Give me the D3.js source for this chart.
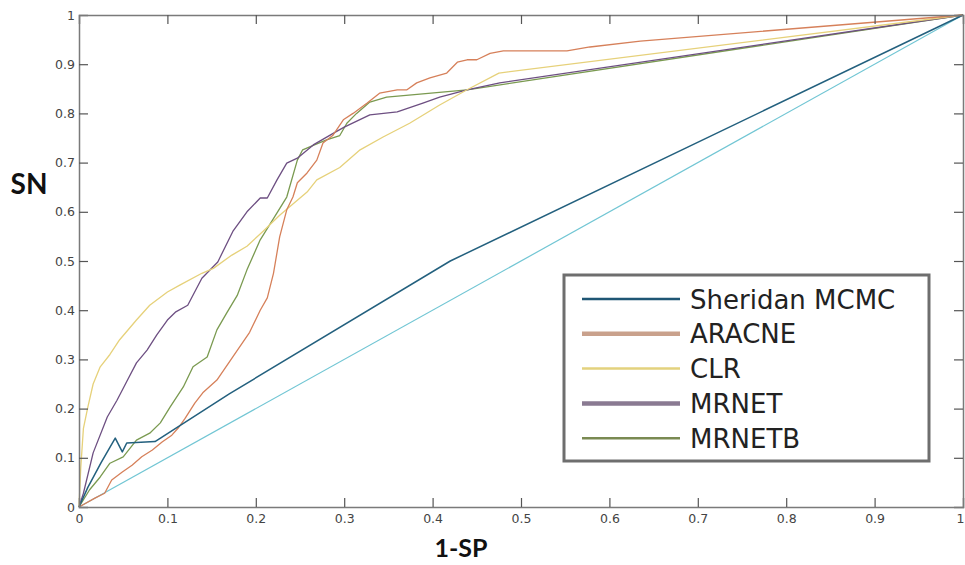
<!DOCTYPE html>
<html lang="en">
<head>
<meta charset="UTF-8" />
<title>ROC curves</title>
<script src="https://d3js.org/d3.v7.min.js"></script>
<style>
  body { margin: 0; background: #fff; }
  svg { display: block; }
  .tick-label { font-family: "DejaVu Sans", sans-serif; font-size: 12.5px; fill: #444; }
  .axis-title { font-family: Lato, "Open Sans", sans-serif; font-weight: bold; fill: #111; }
  .legend-text { font-family: "DejaVu Sans", sans-serif; font-size: 26px; fill: #222; }
</style>
</head>
<body>
<div id="chart"></div>
<script>
// series names and colours
const seriesNames = ['Sheridan MCMC', 'ARACNE', 'CLR', 'MRNET', 'MRNETB'];
const lineColors = ['#23607e', '#d6805a', '#e6d17a', '#6d4f82', '#7a9a50'];
const legendColors = ['#1f5674', '#c9a18c', '#e3d27e', '#8a7a92', '#7a8a52'];
const legendWidths = [2.5, 4.5, 2.5, 4.5, 2.5];
const diagColor = '#72c6d4';

// tick values
const xTicks = [0, 0.1, 0.2, 0.3, 0.4, 0.5, 0.6, 0.7, 0.8, 0.9, 1];
const yTicks = [0, 0.1, 0.2, 0.3, 0.4, 0.5, 0.6, 0.7, 0.8, 0.9, 1];

// [1-SP, SN] points
const diagonal = [[0, 0], [1, 1]];
const sheridan = [[0,0],[0.01,0.04],[0.025,0.09],[0.041,0.14],[0.049,0.112],[0.054,0.13],[0.086,0.133],
  [0.17,0.23],[0.42,0.5],[1,1]];
const aracne = [[0,0],[0.018,0.018],[0.029,0.028],[0.037,0.055],[0.049,0.071],[0.06,0.085],[0.071,0.102],
  [0.083,0.116],[0.094,0.132],[0.105,0.146],[0.112,0.16],[0.12,0.18],[0.131,0.211],[0.14,0.232],[0.156,0.258],
  [0.174,0.305],[0.193,0.355],[0.205,0.4],[0.213,0.425],[0.22,0.475],[0.227,0.549],[0.235,0.604],[0.242,0.63],
  [0.247,0.659],[0.258,0.679],[0.269,0.705],[0.276,0.74],[0.287,0.755],[0.299,0.787],[0.31,0.8],[0.326,0.821],
  [0.34,0.841],[0.36,0.848],[0.371,0.848],[0.382,0.862],[0.397,0.872],[0.416,0.882],[0.428,0.904],[0.439,0.909],
  [0.45,0.909],[0.465,0.922],[0.48,0.927],[0.552,0.927],[0.578,0.935],[0.635,0.947],[1,1]];
const clr = [[0,0],[0.002,0.08],[0.005,0.16],[0.01,0.203],[0.016,0.25],[0.024,0.285],[0.035,0.31],[0.046,0.34],
  [0.065,0.38],[0.08,0.41],[0.1,0.437],[0.114,0.451],[0.139,0.475],[0.152,0.485],[0.173,0.512],[0.19,0.53],
  [0.208,0.56],[0.227,0.593],[0.258,0.64],[0.269,0.665],[0.295,0.69],[0.318,0.726],[0.344,0.752],[0.374,0.78],
  [0.408,0.817],[0.439,0.848],[0.475,0.882],[1,1]];
const mrnet = [[0,0],[0.005,0.028],[0.016,0.11],[0.032,0.183],[0.043,0.217],[0.054,0.255],[0.065,0.293],
  [0.077,0.319],[0.088,0.35],[0.1,0.38],[0.109,0.396],[0.123,0.41],[0.139,0.465],[0.157,0.498],[0.174,0.56],
  [0.19,0.6],[0.205,0.628],[0.213,0.628],[0.224,0.665],[0.235,0.699],[0.247,0.709],[0.265,0.736],[0.29,0.762],
  [0.3,0.772],[0.329,0.797],[0.36,0.803],[0.389,0.821],[0.408,0.833],[0.439,0.848],[0.476,0.862],[1,1]];
const mrnetb = [[0,0],[0.012,0.035],[0.024,0.061],[0.035,0.089],[0.05,0.102],[0.065,0.136],[0.08,0.15],
  [0.092,0.171],[0.103,0.203],[0.118,0.244],[0.129,0.285],[0.145,0.305],[0.156,0.36],[0.167,0.394],[0.179,0.43],
  [0.19,0.482],[0.205,0.543],[0.224,0.598],[0.235,0.63],[0.247,0.705],[0.253,0.726],[0.265,0.735],[0.28,0.746],
  [0.295,0.755],[0.303,0.78],[0.314,0.8],[0.329,0.823],[0.348,0.833],[0.439,0.848],[1,1]];
const seriesData = [sheridan, aracne, clr, mrnet, mrnetb];

const width = 965, height = 565;
const margin = { left: 79, right: 2, top: 15, bottom: 58 };

const svg = d3.select('#chart').append('svg').attr('width', width).attr('height', height);

const x = d3.scaleLinear().domain([0, 1]).range([margin.left, width - margin.right]);
const y = d3.scaleLinear().domain([0, 1]).range([height - margin.bottom, margin.top]);

const line = d3.line().x(d => x(d[0])).y(d => y(d[1]));

// curves
svg.append('path').datum(diagonal).attr('d', line)
  .attr('fill', 'none').attr('stroke', diagColor).attr('stroke-width', 1.2);
// draw order: MRNETB under, Sheridan on top
[4, 3, 2, 1, 0].forEach(i => {
  svg.append('path').datum(seriesData[i]).attr('d', line)
    .attr('fill', 'none').attr('stroke', lineColors[i])
    .attr('stroke-width', i === 0 ? 1.5 : 1.3).attr('stroke-linejoin', 'round');
});

// box axes with inward ticks
const axisColor = '#7a7a7a';
const tickLen = 9;
const axBottom = svg.append('g').attr('transform', `translate(0,${y(0)})`)
  .call(d3.axisBottom(x).tickValues(xTicks).tickSize(-tickLen).tickPadding(7).tickFormat(d3.format('~g')));
const axTop = svg.append('g').attr('transform', `translate(0,${y(1)})`)
  .call(d3.axisTop(x).tickValues(xTicks.slice(1, -1)).tickSize(-tickLen).tickFormat(''));
const axLeft = svg.append('g').attr('transform', `translate(${x(0)},0)`)
  .call(d3.axisLeft(y).tickValues(yTicks).tickSize(-tickLen).tickPadding(4).tickFormat(d3.format('~g')));
const axRight = svg.append('g').attr('transform', `translate(${x(1)},0)`)
  .call(d3.axisRight(y).tickValues(yTicks.slice(1, -1)).tickSize(-tickLen).tickFormat(''));

[axBottom, axTop, axLeft, axRight].forEach(g => {
  g.select('.domain').attr('stroke', axisColor).attr('stroke-width', 1.5);
  g.selectAll('.tick line').attr('stroke', '#555').attr('stroke-width', 1.2);
  g.selectAll('.tick text').attr('class', 'tick-label').attr('font-family', null).attr('font-size', null);
});
axBottom.selectAll('.tick line').filter(d => d === 0 || d === 1).remove();
axLeft.selectAll('.tick line').filter(d => d === 0 || d === 1).remove();
// last x label sits at the right edge
axBottom.selectAll('.tick text').filter(d => d === 1).attr('text-anchor', 'end').attr('dx', 1);

// axis titles
svg.append('text').attr('class', 'axis-title').attr('x', 29).attr('y', 194)
  .attr('text-anchor', 'middle').attr('font-size', 28).text('SN');
svg.append('text').attr('class', 'axis-title').attr('x', 461).attr('y', 557)
  .attr('text-anchor', 'middle').attr('font-size', 25).text('1-SP');

// legend
const legend = svg.append('g').attr('transform', 'translate(564,275)');
legend.append('rect').attr('width', 365).attr('height', 186)
  .attr('fill', '#fff').attr('stroke', '#6e6e6e').attr('stroke-width', 3);
seriesNames.forEach((name, i) => {
  const cy = 24 + i * 34.8;
  legend.append('line').attr('x1', 18).attr('x2', 116).attr('y1', cy).attr('y2', cy)
    .attr('stroke', legendColors[i]).attr('stroke-width', legendWidths[i]);
  legend.append('text').attr('class', 'legend-text').attr('x', 126).attr('y', cy + 9.5).text(name);
});
</script>
</body>
</html>
